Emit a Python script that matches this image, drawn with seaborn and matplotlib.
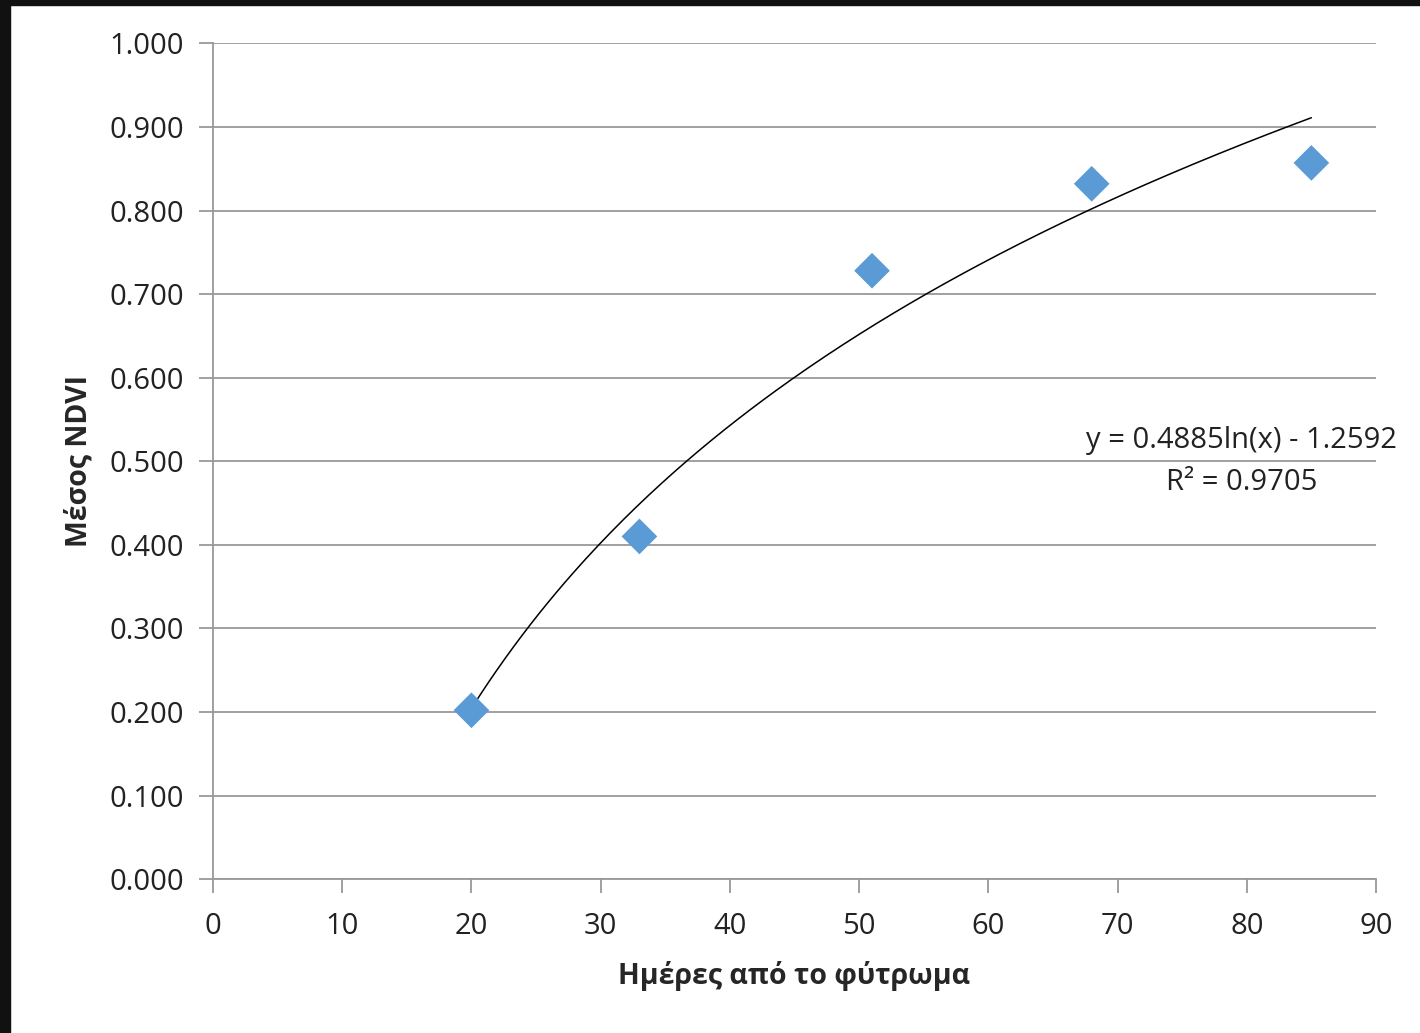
import numpy as np
import pandas as pd
import seaborn as sns
import matplotlib.pyplot as plt
from matplotlib.patches import Rectangle

# data
days = [20, 33, 51, 68, 85]
ndvi = [0.202, 0.410, 0.728, 0.832, 0.857]
coef_a = 0.4885
coef_b = -1.2592
eq_text = 'y = 0.4885ln(x) - 1.2592'
r2_text = 'R² = 0.9705'

sns.set_theme(style='white')
plt.rcParams['font.family'] = ['Open Sans', 'DejaVu Sans']

df = pd.DataFrame({'days': days, 'ndvi': ndvi})
xs = np.linspace(min(days), max(days), 200)
trend = pd.DataFrame({'days': xs, 'ndvi': coef_a * np.log(xs) + coef_b})

fig = plt.figure(figsize=(14.2, 10.33), dpi=100)
ax = fig.add_axes([0.15, 0.149, 0.819, 0.809])

sns.lineplot(data=trend, x='days', y='ndvi', ax=ax, color='black', lw=1.1, zorder=3)
sns.scatterplot(data=df, x='days', y='ndvi', ax=ax, marker='D', s=330,
                color='#5B9BD5', edgecolor='none', zorder=4)

ax.set_xlim(0, 90)
ax.set_ylim(0, 1.0)
ax.set_xticks(np.arange(0, 91, 10))
ax.set_yticks(np.arange(0, 1.01, 0.1))
ax.yaxis.set_major_formatter(plt.FormatStrFormatter('%.3f'))
ax.grid(axis='y', color='#999999', lw=1.3)
ax.set_axisbelow(True)

for s in ['top', 'right']:
    ax.spines[s].set_visible(False)
for s in ['left', 'bottom']:
    ax.spines[s].set_color('#999999')
    ax.spines[s].set_linewidth(1.3)

ax.tick_params(axis='both', which='major', labelsize=21, colors='#999999',
               labelcolor='#222222', length=10, width=1.3, direction='out')
ax.tick_params(axis='x', pad=14)
ax.tick_params(axis='y', pad=11)
ax.tick_params(left=True, bottom=True)

ax.set_xlabel('Ημέρες από το φύτρωμα', fontsize=20.5, fontweight='bold', labelpad=14)
ax.set_ylabel('Μέσος NDVI', fontsize=20.5, fontweight='bold', labelpad=11)

ax.text(79.6, 0.525, eq_text, ha='center', va='center', fontsize=21, color='#222222')
ax.text(79.6, 0.475, r2_text, ha='center', va='center', fontsize=21, color='#222222')

# dark frame strips from the screenshot
fig.patches.append(Rectangle((0, 0), 10 / 1420, 1, transform=fig.transFigure,
                             color='#111111', zorder=10))
fig.patches.append(Rectangle((0, 1 - 5 / 1033), 1, 5 / 1033, transform=fig.transFigure,
                             color='#111111', zorder=10))

fig.savefig('out.png', dpi=100)
